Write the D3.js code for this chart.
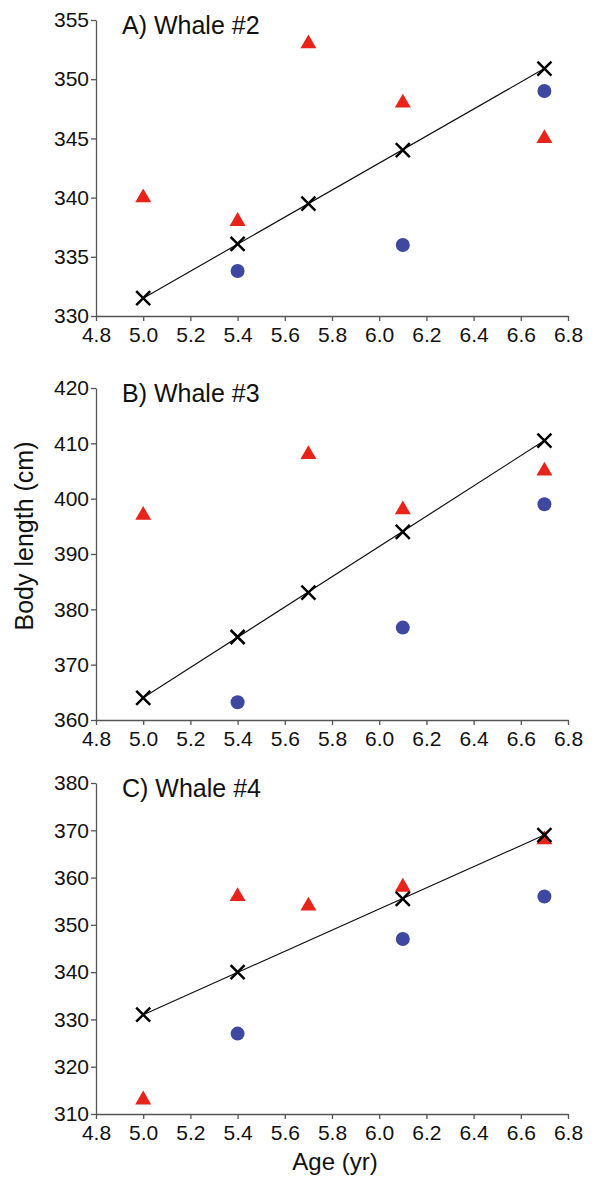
<!DOCTYPE html>
<html>
<head>
<meta charset="utf-8">
<script src="https://cdn.jsdelivr.net/npm/d3@7"></script>
<style>
  body { margin: 0; background: #fff; }
  svg text { font-family: "Liberation Sans", Arial, Helvetica, sans-serif; fill: #111; }
  .axis path, .axis line { stroke: #555; stroke-width: 1.3; }
</style>
</head>
<body>
<div id="chart"></div>
<script>
// x positions (age, yr)
const ageTicks = [4.8, 5.0, 5.2, 5.4, 5.6, 5.8, 6.0, 6.2, 6.4, 6.6, 6.8];

// Whale #2
const w2Fit = [[5.0, 331.5], [5.4, 336.1], [5.7, 339.5], [6.1, 344.0], [6.7, 350.9]];
const w2Tri = [[5.0, 340], [5.4, 338], [5.7, 353], [6.1, 348], [6.7, 345]];
const w2Dot = [[5.4, 333.8], [6.1, 336], [6.7, 349]];
const w2Ticks = [330, 335, 340, 345, 350, 355];

// Whale #3
const w3Fit = [[5.0, 364], [5.4, 375], [5.7, 383], [6.1, 394], [6.7, 410.5]];
const w3Tri = [[5.0, 397], [5.7, 408], [6.1, 398], [6.7, 405]];
const w3Dot = [[5.4, 363.2], [6.1, 376.7], [6.7, 399]];
const w3Ticks = [360, 370, 380, 390, 400, 410, 420];

// Whale #4
const w4Fit = [[5.0, 331], [5.4, 340], [6.1, 355.5], [6.7, 369]];
const w4Tri = [[5.0, 313], [5.4, 356], [5.7, 354], [6.1, 358], [6.7, 368]];
const w4Dot = [[5.4, 327], [6.1, 347], [6.7, 356]];
const w4Ticks = [310, 320, 330, 340, 350, 360, 370, 380];

const panels = [
  { title: 'A) Whale #2', fit: w2Fit, tri: w2Tri, dot: w2Dot, ticks: w2Ticks, top: 20, bottom: 316 },
  { title: 'B) Whale #3', fit: w3Fit, tri: w3Tri, dot: w3Dot, ticks: w3Ticks, top: 388, bottom: 720 },
  { title: 'C) Whale #4', fit: w4Fit, tri: w4Tri, dot: w4Dot, ticks: w4Ticks, top: 783, bottom: 1114 }
];

const width = 594, height = 1178;
const svg = d3.select('#chart').append('svg')
  .attr('width', width)
  .attr('height', height);

const x = d3.scaleLinear().domain([4.8, 6.8]).range([96, 568]);

const triangle = d3.symbol().type(d3.symbolTriangle).size(110);

panels.forEach(p => {
  const y = d3.scaleLinear()
    .domain(d3.extent(p.ticks))
    .range([p.bottom, p.top]);

  const g = svg.append('g');

  const xAxis = g.append('g')
    .attr('class', 'axis')
    .attr('transform', `translate(0,${p.bottom})`)
    .call(d3.axisBottom(x).tickValues(ageTicks).tickFormat(d3.format('.1f')).tickSize(5).tickSizeOuter(0).tickPadding(6));

  const yAxis = g.append('g')
    .attr('class', 'axis')
    .attr('transform', `translate(${x(4.8)},0)`)
    .call(d3.axisLeft(y).tickValues(p.ticks).tickFormat(d3.format('d')).tickSize(5).tickSizeOuter(0).tickPadding(2));

  [xAxis, yAxis].forEach(a => a
    .attr('font-size', null)
    .attr('font-family', null)
    .selectAll('text')
      .style('font-size', '21px'));

  g.append('text')
    .attr('x', 122)
    .attr('y', p.top + 14)
    .style('font-size', '25px')
    .text(p.title);

  // fitted line from first to last cross
  const ends = [p.fit[0], p.fit[p.fit.length - 1]];
  g.append('line')
    .attr('x1', x(ends[0][0])).attr('y1', y(ends[0][1]))
    .attr('x2', x(ends[1][0])).attr('y2', y(ends[1][1]))
    .attr('stroke', '#111')
    .attr('stroke-width', 1.2);

  g.selectAll('.tri')
    .data(p.tri)
    .enter()
    .append('path')
      .attr('class', 'tri')
      .attr('d', triangle)
      .attr('transform', d => `translate(${x(d[0])},${y(d[1])})`)
      .attr('fill', '#e8231a');

  g.selectAll('.dot')
    .data(p.dot)
    .enter()
    .append('circle')
      .attr('class', 'dot')
      .attr('cx', d => x(d[0]))
      .attr('cy', d => y(d[1]))
      .attr('r', 7)
      .attr('fill', '#3f48a0');

  const s = 7;
  g.selectAll('.cross')
    .data(p.fit)
    .enter()
    .append('path')
      .attr('class', 'cross')
      .attr('d', d => {
        const cx = x(d[0]), cy = y(d[1]);
        return `M${cx - s},${cy - s}L${cx + s},${cy + s}M${cx - s},${cy + s}L${cx + s},${cy - s}`;
      })
      .attr('stroke', '#000')
      .attr('stroke-width', 2.5)
      .attr('fill', 'none');
});

svg.append('text')
  .attr('x', 335)
  .attr('y', 1170)
  .attr('text-anchor', 'middle')
  .style('font-size', '24px')
  .text('Age (yr)');

svg.append('text')
  .attr('transform', 'translate(33,536) rotate(-90)')
  .attr('text-anchor', 'middle')
  .style('font-size', '25px')
  .text('Body length (cm)');
</script>
</body>
</html>
